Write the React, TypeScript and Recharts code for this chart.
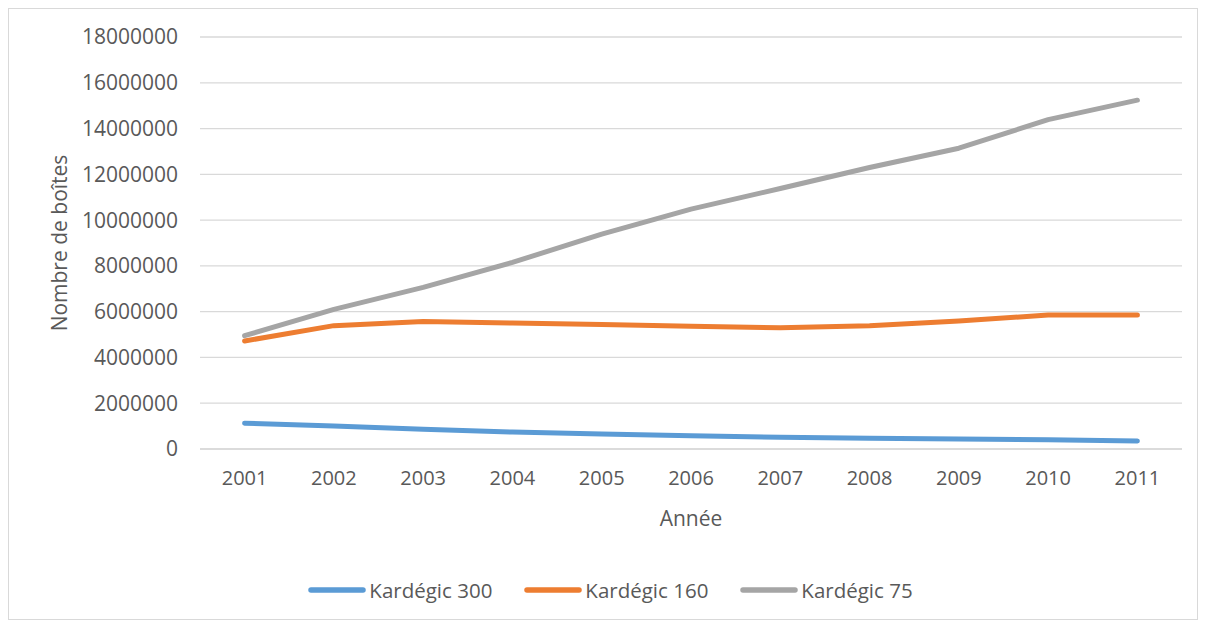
import React from 'react';
import { LineChart, Line, XAxis, YAxis, CartesianGrid, Legend } from 'recharts';

const years = ['2001', '2002', '2003', '2004', '2005', '2006', '2007', '2008', '2009', '2010', '2011'];
const kardegic300 = [1130000, 1000000, 860000, 740000, 650000, 580000, 510000, 470000, 440000, 400000, 350000];
const kardegic160 = [4720000, 5390000, 5570000, 5500000, 5440000, 5360000, 5300000, 5390000, 5590000, 5850000, 5850000];
const kardegic75 = [4950000, 6100000, 7060000, 8150000, 9390000, 10480000, 11380000, 12300000, 13140000, 14390000, 15240000];
const yTicks = [0, 2000000, 4000000, 6000000, 8000000, 10000000, 12000000, 14000000, 16000000, 18000000];

const series = [
  { key: 'k300', name: 'Kardégic 300', color: '#5B9BD5' },
  { key: 'k160', name: 'Kardégic 160', color: '#ED7D31' },
  { key: 'k75', name: 'Kardégic 75', color: '#A5A5A5' },
];

const data = years.map((y, i) => ({
  year: y,
  k300: kardegic300[i],
  k160: kardegic160[i],
  k75: kardegic75[i],
}));

const FONT = '"Open Sans", sans-serif';
const TEXT = '#595959';

const LegendContent = () => (
  <div style={{ display: 'flex', justifyContent: 'center', alignItems: 'center', height: 30, fontFamily: FONT, fontSize: 20.5, color: TEXT }}>
    {series.map((s) => (
      <div key={s.key} style={{ display: 'flex', alignItems: 'center', margin: '0 16px' }}>
        <svg width={58} height={10} style={{ marginRight: 3 }}>
          <line x1={3} y1={5} x2={55} y2={5} stroke={s.color} strokeWidth={5.5} strokeLinecap="round" />
        </svg>
        <span>{s.name}</span>
      </div>
    ))}
  </div>
);

export default function App() {
  return (
    <div style={{ width: 1188, height: 610, border: '1px solid #D9D9D9', background: '#fff' }}>
      <LineChart width={1188} height={610} data={data} margin={{ top: 28, right: 15, left: 30, bottom: 14 }}>
        <CartesianGrid vertical={false} stroke="#D9D9D9" strokeWidth={1.3} />
        <XAxis
          dataKey="year"
          axisLine={{ stroke: '#D9D9D9', strokeWidth: 1.3 }}
          tickLine={false}
          tickSize={0}
          tickMargin={22}
          height={126}
          padding={{ left: 44.6, right: 44.6 }}
          tick={{ fill: TEXT, fontSize: 20, fontFamily: FONT }}
          label={{
            value: 'Année',
            position: 'insideTop',
            offset: 62,
            fill: TEXT,
            fontSize: 21,
            fontFamily: FONT,
          }}
        />
        <YAxis
          domain={[0, 18000000]}
          ticks={yTicks}
          axisLine={false}
          tickLine={false}
          tickSize={0}
          tickMargin={22}
          width={161}
          interval={0}
          tick={{ fill: TEXT, fontSize: 21, fontFamily: FONT }}
          label={{
            value: 'Nombre de boîtes',
            angle: -90,
            position: 'insideLeft',
            offset: 21,
            fill: TEXT,
            fontSize: 21,
            fontFamily: FONT,
            style: { textAnchor: 'middle' },
          }}
        />
        <Legend verticalAlign="bottom" content={<LegendContent />} />
        {series.map((s) => (
          <Line
            key={s.key}
            type="linear"
            dataKey={s.key}
            name={s.name}
            stroke={s.color}
            strokeWidth={5}
            strokeLinecap="round"
            strokeLinejoin="round"
            dot={false}
            activeDot={false}
            isAnimationActive={false}
          />
        ))}
      </LineChart>
    </div>
  );
}
